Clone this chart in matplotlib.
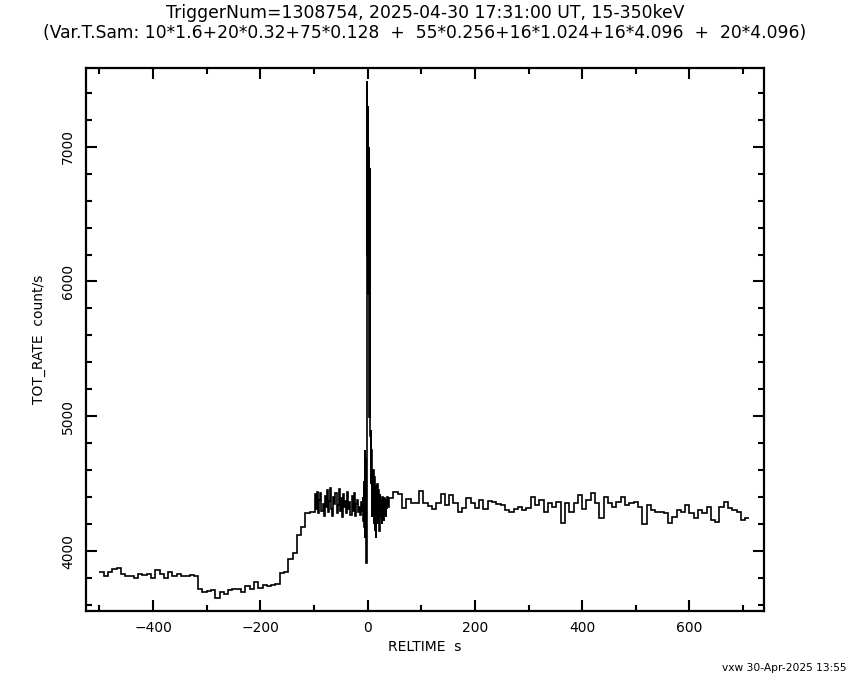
import numpy as np
import matplotlib
matplotlib.use("Agg")
import matplotlib.pyplot as plt
from matplotlib.ticker import MultipleLocator

# light curve, TOT_RATE (count/s) vs RELTIME (s)
# pre-trigger, 8 s bins from -500 to -100
rate_pre = [3842, 3814, 3842, 3864, 3871, 3829, 3814, 3814, 3799, 3832,
            3822, 3829, 3799, 3857, 3832, 3799, 3847, 3812, 3829, 3814,
            3814, 3819, 3814, 3715, 3693, 3703, 3713, 3649, 3698, 3680,
            3708, 3715, 3715, 3693, 3737, 3718, 3772, 3725, 3750, 3740,
            3745, 3755, 3839, 3844, 3938, 3988, 4121, 4176, 4280, 4290]
# 2 s bins from -100 to -10
rate_b = [4290, 4420, 4310, 4440, 4280, 4380, 4430, 4300, 4350, 4260,
          4410, 4330, 4450, 4290, 4370, 4470, 4310, 4260, 4400, 4350,
          4430, 4280, 4340, 4460, 4300, 4390, 4250, 4420, 4330, 4370,
          4280, 4440, 4310, 4360, 4270, 4410, 4300, 4430, 4260, 4350,
          4380, 4290, 4330, 4270, 4360]
# 0.5 s bins from -10 to 10 (the burst)
rate_c = [4300, 4380, 4250, 4400, 4220, 4450, 4280, 4520, 4180, 4600,
          4750, 4100, 4680, 3950, 4450, 3910, 4850,
          5600, 7490, 6200, 7300, 5900, 6850, 6100, 7000, 5800,
          4995, 6845, 5545, 5200,
          4850, 4650, 4900, 4500, 4750, 4350, 4600, 4250, 4500, 4300]
# 1 s bins from 10 to 40
rate_d = [4600, 4200, 4550, 4150, 4480, 4100, 4400, 4250, 4500, 4200,
          4450, 4300, 4150, 4420, 4250, 4380, 4200, 4400, 4280, 4350,
          4220, 4390, 4300, 4360, 4250, 4380, 4310, 4400, 4330, 4370]
# 8 s bins from 40 to 712
rate_post = [4394, 4440, 4425, 4317, 4384, 4359, 4354, 4448, 4354, 4334,
             4310, 4354, 4421, 4342, 4416, 4354, 4292, 4317, 4391, 4354,
             4317, 4379, 4310, 4374, 4367, 4349, 4342, 4305, 4292, 4310,
             4329, 4305, 4317, 4404, 4342, 4379, 4292, 4354, 4329, 4367,
             4206, 4354, 4292, 4354, 4416, 4310, 4379, 4428, 4354, 4243,
             4404, 4354, 4329, 4367, 4404, 4342, 4354, 4367, 4329, 4200,
             4342, 4305, 4292, 4292, 4280, 4206, 4255, 4305, 4292, 4342,
             4280, 4243, 4305, 4280, 4329, 4230, 4218, 4329, 4367, 4317,
             4305, 4292, 4230, 4248]

edges = np.concatenate([
    -500 + 8.0 * np.arange(len(rate_pre)),
    -100 + 2.0 * np.arange(len(rate_b)),
    -10 + 0.5 * np.arange(len(rate_c)),
    10 + 1.0 * np.arange(len(rate_d)),
    40 + 8.0 * np.arange(len(rate_post) + 1),
])
rate = np.concatenate([rate_pre, rate_b, rate_c, rate_d, rate_post])

fig = plt.figure(figsize=(8.5, 6.8), dpi=100)
ax = fig.add_axes([0.1006, 0.1015, 0.7982, 0.7981])
ax.stairs(rate, edges, baseline=None, color='black', linewidth=1.2)

ax.set_xlim(-526, 739)
ax.set_ylim(3555, 7582)
ax.xaxis.set_major_locator(MultipleLocator(200))
ax.xaxis.set_minor_locator(MultipleLocator(100))
ax.yaxis.set_major_locator(MultipleLocator(1000))
ax.yaxis.set_minor_locator(MultipleLocator(200))
ax.tick_params(which='both', direction='in', top=True, right=True, width=1.5, labelsize=10)
ax.tick_params(which='major', length=8)
ax.tick_params(which='minor', length=4)
ax.tick_params(axis='x', pad=7)
ax.tick_params(axis='y', pad=7.5)
for lab in ax.get_yticklabels():
    lab.set_rotation(90)
    lab.set_va('center')
for s in ax.spines.values():
    s.set_linewidth(1.6)

ax.set_xlabel('RELTIME  s', fontsize=10, labelpad=4)
ax.set_ylabel('TOT_RATE  count/s', fontsize=10, labelpad=11)

fig.text(0.5, 1 - 13 / 680, 'TriggerNum=1308754, 2025-04-30 17:31:00 UT, 15-350keV',
         ha='center', va='center', fontsize=12.4)
fig.text(0.5, 1 - 33 / 680,
         '(Var.T.Sam: 10*1.6+20*0.32+75*0.128  +  55*0.256+16*1.024+16*4.096  +  20*4.096)',
         ha='center', va='center', fontsize=12.3)
fig.text(847 / 850, 1 - 668 / 680, 'vxw 30-Apr-2025 13:55', ha='right', va='center', fontsize=7.7)

fig.savefig('out.png', dpi=100)
